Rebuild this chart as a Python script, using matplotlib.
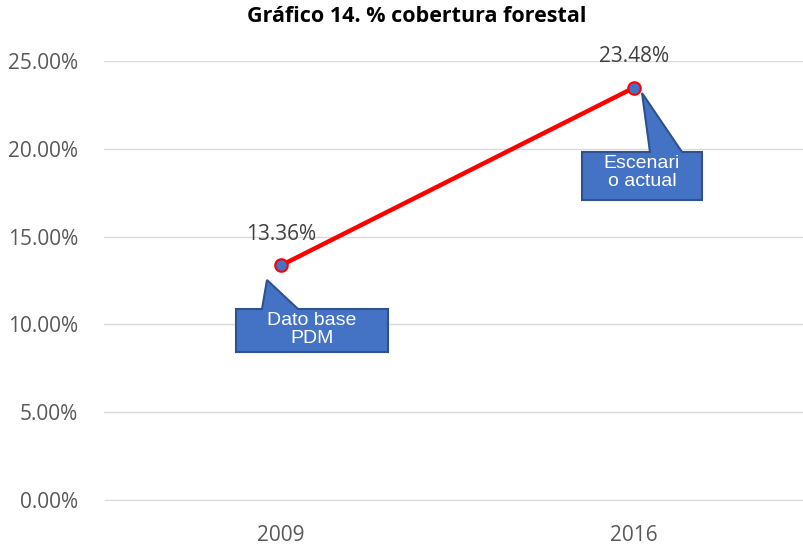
import matplotlib.pyplot as plt
from matplotlib.patches import Polygon
from matplotlib.ticker import FuncFormatter

# datos
anios = ['2009', '2016']
cobertura = [13.36, 23.48]
notas = ['Dato base\nPDM', 'Escenari\no actual']

W, H = 804, 546
fig = plt.figure(figsize=(W / 100, H / 100), dpi=100)
ax = fig.add_axes([104.5 / W, 46 / H, 706 / W, 439 / H])

x = range(len(anios))
ax.plot(x, cobertura, color='#FF0000', linewidth=3.2, marker='o', markersize=9,
        markerfacecolor='#4472C4', markeredgecolor='#FF0000', markeredgewidth=1.5, zorder=3)

for xi, v in zip(x, cobertura):
    ax.annotate(f'{v:.2f}%', (xi, v), xytext=(0, 15), textcoords='offset points',
                ha='center', va='bottom', fontsize=15, color='#404040', family='Open Sans')

ax.set_xlim(-0.5, 1.5)
ax.set_ylim(0, 25)
ax.set_yticks([0, 5, 10, 15, 20, 25])
ax.yaxis.set_major_formatter(FuncFormatter(lambda v, p: f'{v:.2f}%'))
ax.set_xticks(list(x))
ax.set_xticklabels(anios)
ax.grid(axis='y', color='#D9D9D9', linewidth=1)
ax.set_axisbelow(True)
for s in ['top', 'right', 'left']:
    ax.spines[s].set_visible(False)
ax.spines['bottom'].set_color('#D9D9D9')
ax.tick_params(length=0, labelsize=15, labelcolor='#595959')
ax.tick_params(axis='x', pad=18)
ax.tick_params(axis='y', pad=19)
for lbl in ax.get_xticklabels() + ax.get_yticklabels():
    lbl.set_family('Open Sans')

fig.text(417 / W, 1 - 17 / H, 'Gráfico 14. % cobertura forestal', ha='center', va='center',
         fontsize=15.5, fontweight='bold', family='Open Sans', color='#000000')


# globos de texto en pixeles de la figura
def globo(caja, punta, base, texto):
    x0, y0, x1, y1 = caja
    bx0, bx1 = base
    pts = [(x0, y0), (bx0, y0), punta, (bx1, y0), (x1, y0), (x1, y1), (x0, y1)]
    pts = [(px / W, 1 - py / H) for px, py in pts]
    poly = Polygon(pts, closed=True, transform=fig.transFigure,
                   facecolor='#4472C4', edgecolor='#2F528F', linewidth=1.5, zorder=5)
    fig.patches.append(poly)
    t = fig.text((x0 + x1) / 2 / W, 1 - (y0 + 3) / H, texto, ha='center', va='top',
                 color='white', fontsize=14, family='Liberation Sans', linespacing=1.05, zorder=6)
    t.set_clip_path(poly)


globo((236, 309, 388, 352), (267, 280), (262, 298), notas[0])
globo((582, 152, 702, 200), (642, 93), (650, 682), notas[1])

fig.savefig('out.png', dpi=100)
